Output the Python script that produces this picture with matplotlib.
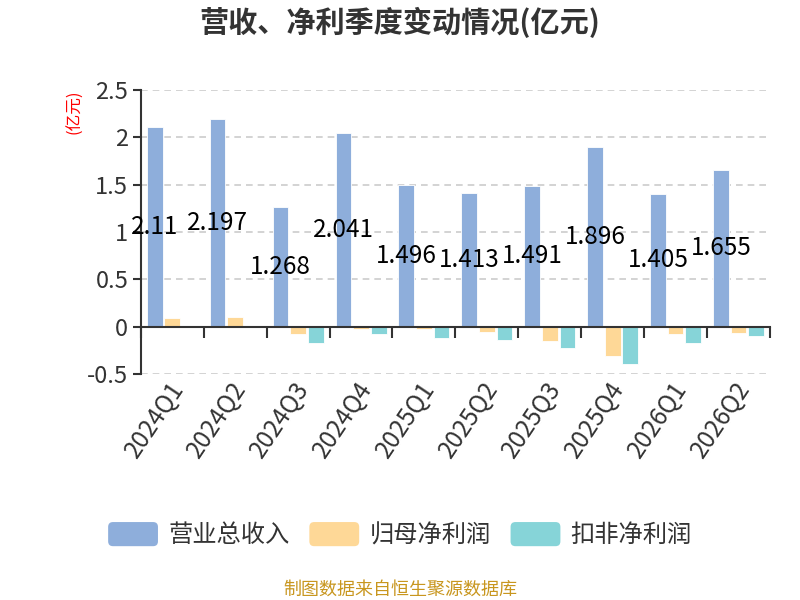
import matplotlib
matplotlib.use("Agg")
import matplotlib.pyplot as plt
import matplotlib.transforms as mtransforms
from matplotlib.patches import FancyBboxPatch, Patch
from matplotlib.legend_handler import HandlerPatch
import numpy as np

plt.rcParams['font.family'] = ['Noto Sans CJK SC', 'DejaVu Sans']

categories = ["2024Q1", "2024Q2", "2024Q3", "2024Q4", "2025Q1",
              "2025Q2", "2025Q3", "2025Q4", "2026Q1", "2026Q2"]
revenue = [2.11, 2.197, 1.268, 2.041, 1.496, 1.413, 1.491, 1.896, 1.405, 1.655]
net_profit = [0.09, 0.10, -0.08, -0.03, -0.025, -0.06, -0.15, -0.31, -0.078, -0.063]
deducted_profit = [0.005, 0.004, -0.17, -0.08, -0.116, -0.14, -0.23, -0.39, -0.17, -0.099]
series_names = ["营业总收入", "归母净利润", "扣非净利润"]
colors = ["#8eaedb", "#fed897", "#86d4d8"]

fig = plt.figure(figsize=(8, 6), dpi=100)
ax = fig.add_axes([0.176, 0.3767, 0.7865, 0.4733])

x = np.arange(len(categories))
w = 0.25
offs = [-0.28, 0.0, 0.28]
for vals, off, c, name in zip([revenue, net_profit, deducted_profit], offs, colors, series_names):
    ax.bar(x + off, vals, width=w, color=c, label=name, edgecolor='white', linewidth=0.6, zorder=3)

for xi, v in zip(x, revenue):
    ax.text(xi + offs[0], v / 2, f"{v:g}", ha='center', va='center', fontsize=17.5,
            color='black', zorder=5)

ax.set_xlim(-0.5, len(categories) - 0.5)
ax.set_ylim(-0.5, 2.5)
ax.set_yticks([-0.5, 0, 0.5, 1, 1.5, 2, 2.5])
ax.set_yticklabels(["-0.5", "0", "0.5", "1", "1.5", "2", "2.5"])
ax.yaxis.grid(True, linestyle=(0, (4, 3)), color='#cccccc', linewidth=1.2, zorder=0)
ax.tick_params(axis='y', labelsize=17, colors='#333333', length=6, width=1.5, direction='out', pad=3)

for s in ['top', 'right']:
    ax.spines[s].set_visible(False)
ax.spines['left'].set_color('#333333')
ax.spines['left'].set_linewidth(1.5)
ax.spines['bottom'].set_position(('data', 0))
ax.spines['bottom'].set_color('#333333')
ax.spines['bottom'].set_linewidth(1.5)
ax.spines['bottom'].set_zorder(4)
ax.set_xticks(np.arange(len(categories) + 1) - 0.5)
ax.set_xticklabels([])
ax.tick_params(axis='x', length=8, width=1.5, direction='out', colors='#333333')

trans = mtransforms.blended_transform_factory(ax.transData, ax.transAxes)
for xi, lab in zip(x, categories):
    ax.text(xi + 0.1, -0.035, lab, transform=trans, rotation=56, ha='right', va='center',
            rotation_mode='anchor', fontsize=17.5, color='#333333')

fig.text(0.094, 0.813, "(亿元)", rotation=90, color='red', fontsize=12, ha='center', va='center')
fig.text(0.5, 0.962, "营收、净利季度变动情况(亿元)", ha='center', va='center', fontsize=21,
         fontweight='bold', color='#333333')
fig.text(0.5, 0.017, "制图数据来自恒生聚源数据库", ha='center', va='center', fontsize=13,
         color='#c8961e')


class RoundHandler(HandlerPatch):
    def create_artists(self, legend, orig_handle, xdescent, ydescent, width, height, fontsize, trans):
        p = FancyBboxPatch((-xdescent, -ydescent), width, height,
                           boxstyle="round,pad=0,rounding_size=%f" % (height * 0.2),
                           facecolor=orig_handle.get_facecolor(), edgecolor='none',
                           transform=trans)
        return [p]


handles = [Patch(facecolor=c, label=n) for c, n in zip(colors, series_names)]
leg = fig.legend(handles, series_names, loc='center', bbox_to_anchor=(0.5, 0.108), ncol=3, frameon=False,
                 fontsize=17.5, handlelength=2.05, handleheight=1.15, handletextpad=0.42,
                 columnspacing=0.82, labelcolor='#333333',
                 handler_map={Patch: RoundHandler()})

fig.savefig("out.png", dpi=100)
